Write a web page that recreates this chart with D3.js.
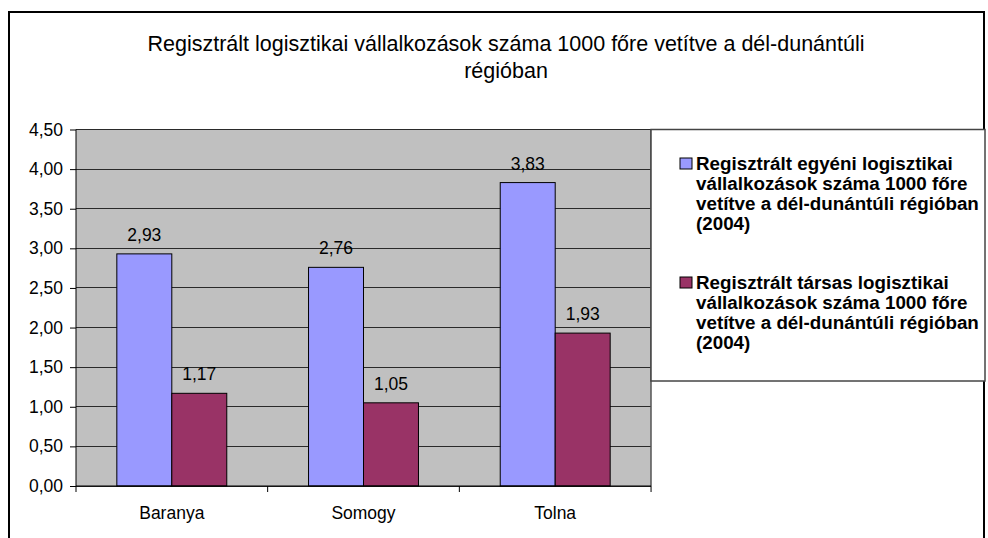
<!DOCTYPE html>
<html>
<head>
<meta charset="utf-8">
<script src="https://cdn.jsdelivr.net/npm/d3@7"></script>
<style>
  body { margin: 0; background: #fff; }
  text { font-family: "Liberation Sans", Arial, sans-serif; fill: #000; }
</style>
</head>
<body>
<div class="chart"></div>
<script>
// chart data
const categories = ['Baranya', 'Somogy', 'Tolna'];
const egyeni = [2.93, 2.76, 3.83];
const tarsas = [1.17, 1.05, 1.93];
const seriesNames = [
  ['Regisztrált egyéni logisztikai', 'vállalkozások száma 1000 főre', 'vetítve a dél-dunántúli régióban', '(2004)'],
  ['Regisztrált társas logisztikai', 'vállalkozások száma 1000 főre', 'vetítve a dél-dunántúli régióban', '(2004)']
];
const yTicks = [0, 0.5, 1, 1.5, 2, 2.5, 3, 3.5, 4, 4.5];
const titleLines = ['Regisztrált logisztikai vállalkozások száma 1000 főre vetítve a dél-dunántúli', 'régióban'];

const width = 988, height = 538;
const plot = {left: 76, right: 651, top: 129.5, bottom: 486};

const svg = d3.select('.chart').append('svg')
    .attr('width', width)
    .attr('height', height);

// outer frame
svg.append('rect')
    .attr('x', 9).attr('y', 12)
    .attr('width', 975).attr('height', 560)
    .attr('fill', 'none')
    .attr('stroke', '#000')
    .attr('stroke-width', 2);

// title
svg.selectAll('.title')
  .data(titleLines)
  .enter()
  .append('text')
    .attr('class', 'title')
    .attr('x', 506)
    .attr('y', (d, i) => 51 + i * 27)
    .attr('text-anchor', 'middle')
    .attr('font-size', 21.5)
    .text(d => d);

const yScale = d3.scaleLinear()
    .domain([0, 4.5])
    .range([plot.bottom, plot.top]);

const x0 = d3.scaleBand()
    .domain(categories)
    .range([plot.left, plot.right])
    .paddingInner(0.4265)
    .paddingOuter(0.213);

const series = ['egyeni', 'tarsas'];
const x1 = d3.scaleBand()
    .domain(series)
    .range([0, x0.bandwidth()]);

const color = d3.scaleOrdinal().domain(series).range(['#9999FF', '#993366']);

// plot area
svg.append('rect')
    .attr('x', plot.left).attr('y', plot.top)
    .attr('width', plot.right - plot.left)
    .attr('height', plot.bottom - plot.top)
    .attr('fill', '#C0C0C0');

svg.selectAll('.grid')
  .data(yTicks)
  .enter()
  .append('line')
    .attr('class', 'grid')
    .attr('x1', plot.left).attr('x2', plot.right)
    .attr('y1', d => yScale(d)).attr('y2', d => yScale(d))
    .attr('stroke', '#2a2a2a')
    .attr('shape-rendering', 'crispEdges');

svg.append('line')
    .attr('x1', plot.right).attr('x2', plot.right)
    .attr('y1', plot.top).attr('y2', plot.bottom)
    .attr('stroke', '#555')
    .attr('stroke-width', 1.5);

// y axis
const yAxis = d3.axisLeft(yScale)
    .tickValues(yTicks)
    .tickSize(6)
    .tickPadding(7)
    .tickFormat(d => d3.format('.2f')(d).replace('.', ','));

svg.append('g')
    .attr('class', 'axis y-axis')
    .attr('transform', `translate(${plot.left},0)`)
    .call(yAxis)
    .call(g => g.select('.domain').attr('d', `M0,${plot.top}V${plot.bottom}`))
    .call(g => g.selectAll('text').attr('font-size', 17.5).attr('font-family', '"Liberation Sans", Arial, sans-serif'));

// bars
const rows = categories.map((c, i) => ({cat: c, egyeni: egyeni[i], tarsas: tarsas[i]}));

const groups = svg.selectAll('.group')
  .data(rows)
  .enter()
  .append('g')
    .attr('transform', d => `translate(${x0(d.cat)},0)`);

groups.selectAll('rect')
  .data(d => series.map(k => ({key: k, value: d[k]})))
  .enter()
  .append('rect')
    .attr('x', d => x1(d.key))
    .attr('y', d => yScale(d.value))
    .attr('width', x1.bandwidth())
    .attr('height', d => plot.bottom - yScale(d.value))
    .attr('fill', d => color(d.key))
    .attr('stroke', '#000')
    .attr('stroke-width', 1);

groups.selectAll('.val')
  .data(d => series.map(k => ({key: k, value: d[k]})))
  .enter()
  .append('text')
    .attr('class', 'val')
    .attr('x', d => x1(d.key) + x1.bandwidth() / 2)
    .attr('y', d => yScale(d.value) - 13)
    .attr('text-anchor', 'middle')
    .attr('font-size', 17.5)
    .text(d => d3.format('.2f')(d.value).replace('.', ','));

// x axis
svg.append('line')
    .attr('x1', plot.left).attr('x2', plot.right)
    .attr('y1', plot.bottom).attr('y2', plot.bottom)
    .attr('stroke', '#000');

const boundaries = [plot.left].concat(categories.map(c => x0(c) + x0.bandwidth() + x0.step() * x0.paddingInner() / 2));
svg.selectAll('.xtick')
  .data(boundaries)
  .enter()
  .append('line')
    .attr('x1', d => d).attr('x2', d => d)
    .attr('y1', plot.bottom).attr('y2', plot.bottom + 6)
    .attr('stroke', '#000');

svg.selectAll('.xlabel')
  .data(categories)
  .enter()
  .append('text')
    .attr('x', d => x0(d) + x0.bandwidth() / 2)
    .attr('y', 519)
    .attr('text-anchor', 'middle')
    .attr('font-size', 17.5)
    .text(d => d);

// legend
svg.append('rect')
    .attr('x', 651).attr('y', plot.top)
    .attr('width', 334).attr('height', 381 - plot.top)
    .attr('fill', '#fff')
    .attr('stroke', '#444')
    .attr('stroke-width', 1.5);

const legend = svg.selectAll('.legend')
  .data(series)
  .enter()
  .append('g')
    .attr('transform', (d, i) => `translate(0,${170 + i * 119})`);

legend.append('rect')
    .attr('x', 680).attr('y', -12)
    .attr('width', 12).attr('height', 11)
    .attr('fill', d => color(d))
    .attr('stroke', '#000');

legend.selectAll('text')
  .data((d, i) => seriesNames[i])
  .enter()
  .append('text')
    .attr('x', 696)
    .attr('y', (d, i) => i * 20)
    .attr('font-size', 18.8)
    .attr('font-weight', 'bold')
    .text(d => d);
</script>
</body>
</html>
